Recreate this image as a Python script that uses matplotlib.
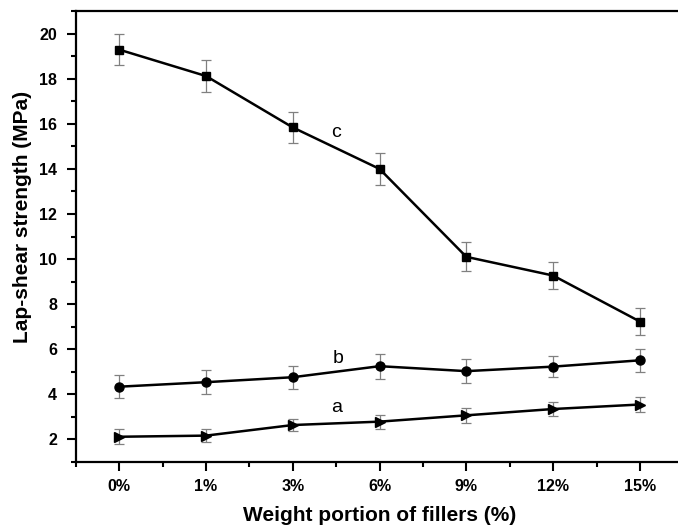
import matplotlib
matplotlib.use("Agg")
import matplotlib.pyplot as plt
from matplotlib.ticker import MultipleLocator, FixedLocator

plt.rcParams['font.family'] = ['Liberation Sans', 'DejaVu Sans']

categories = ["0%", "1%", "3%", "6%", "9%", "12%", "15%"]
series_a = [2.12, 2.17, 2.64, 2.79, 3.07, 3.35, 3.55]
err_a = [0.34, 0.30, 0.25, 0.31, 0.33, 0.31, 0.32]
series_b = [4.34, 4.54, 4.76, 5.25, 5.03, 5.23, 5.51]
err_b = [0.50, 0.54, 0.50, 0.55, 0.52, 0.48, 0.50]
series_c = [19.29, 18.12, 15.84, 14.00, 10.10, 9.27, 7.23]
err_c = [0.68, 0.70, 0.70, 0.72, 0.65, 0.60, 0.60]

fig = plt.figure(figsize=(6.78, 5.28), dpi=100)
ax = fig.add_axes([0.1118, 0.125, 0.896, 0.854])

x = list(range(len(categories)))
for y, e, m, ms in [(series_a, err_a, '>', 6.5), (series_b, err_b, 'o', 6.5), (series_c, err_c, 's', 5.5)]:
    ax.errorbar(x, y, yerr=e, fmt='none', ecolor='#808080', elinewidth=0.9,
                capsize=3.3, capthick=0.9, zorder=2)
    ax.plot(x, y, color='black', lw=1.8, marker=m, ms=ms, zorder=3)

ax.text(2.5, 15.6, "c", fontsize=14, ha='center', va='center')
ax.text(2.52, 5.6, "b", fontsize=14, ha='center', va='center')
ax.text(2.5, 3.42, "a", fontsize=14, ha='center', va='center')

ax.set_xlim(-0.5, 6.5)
ax.set_ylim(1, 21)
ax.set_xticks(x)
ax.set_xticklabels(categories)
ax.xaxis.set_minor_locator(FixedLocator([i + 0.5 for i in range(-1, 7)]))
ax.yaxis.set_major_locator(MultipleLocator(2))
ax.yaxis.set_minor_locator(MultipleLocator(1))
ax.set_yticks(list(range(2, 21, 2)))

for s in ['left', 'bottom', 'top']:
    ax.spines[s].set_linewidth(1.6)
ax.spines['right'].set_visible(False)

ax.tick_params(axis='both', which='major', direction='out', length=6.5, width=1.5,
               labelsize=11.5)
ax.tick_params(axis='both', which='minor', direction='out', length=3.5, width=1.5)
ax.tick_params(top=False, right=False, which='both')
ax.tick_params(axis='y', which='major', pad=7)
ax.tick_params(axis='x', which='major', pad=6)
for lab in ax.get_xticklabels() + ax.get_yticklabels():
    lab.set_fontweight('bold')

ax.set_xlabel("Weight portion of fillers (%)", fontsize=15, fontweight='bold')
ax.set_ylabel("Lap-shear strength (MPa)", fontsize=15, fontweight='bold')
ax.xaxis.set_label_coords(0.5, -0.0976)
ax.yaxis.set_label_coords(-0.072, 0.543)

fig.savefig("out.png", dpi=100)
